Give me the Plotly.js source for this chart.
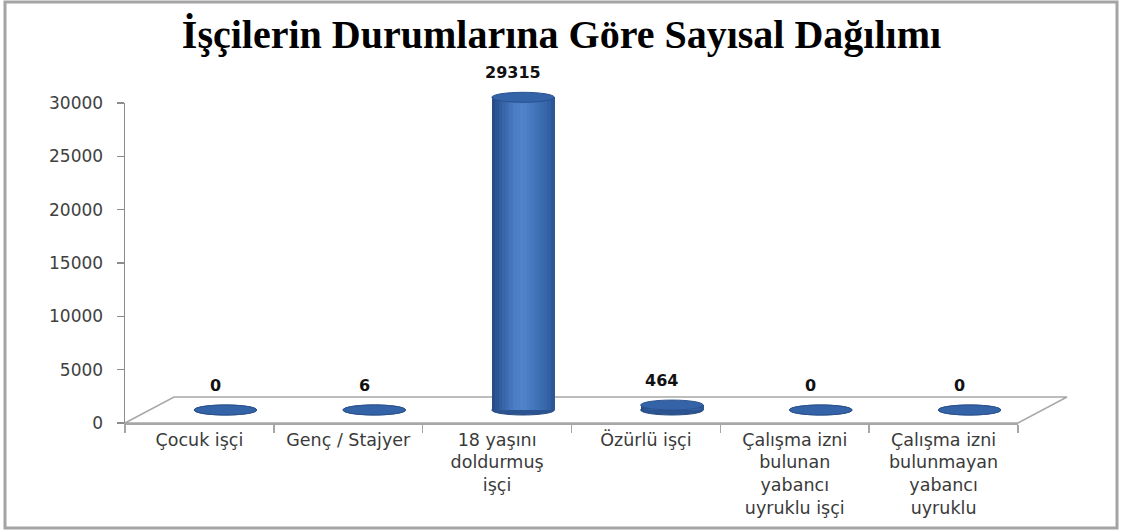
<!DOCTYPE html>
<html>
<head>
<meta charset="utf-8">
<script src="https://cdn.plot.ly/plotly-3.0.1.min.js"></script>
<style>html,body{margin:0;padding:0;background:#fff;} #chart{width:1123px;height:532px;}</style>
</head>
<body>
<div id="chart"></div>
<script>
// ---- data ----
const categories = ['Çocuk işçi', 'Genç / Stajyer', '18 yaşını<br>doldurmuş<br>işçi', 'Özürlü işçi', 'Çalışma izni<br>bulunan<br>yabancı<br>uyruklu işçi', 'Çalışma izni<br>bulunmayan<br>yabancı<br>uyruklu'];
const values = [0, 6, 29315, 464, 0, 0];
const yTickVals = [0, 5000, 10000, 15000, 20000, 25000, 30000];
const yTickText = ['0', '5000', '10000', '15000', '20000', '25000', '30000'];
const titleText = 'İşçilerin Durumlarına Göre Sayısal Dağılımı';

// ---- geometry helpers (pixels -> paper) ----
const L = 100, R = 1075, T = 80, B = 450;
const W = R - L, H = B - T;
const px = x => (x - L) / W;
const py = y => (B - y) / H;

const pxPerUnit = 320 / 30000;
const barW = 0.42;                 // cylinder width in category units
const ellH = 5 / pxPerUnit;        // half-height of ellipse in data units (~5px)
const y2Min = -2000;               // room below zero so the base ellipse is not clipped
const idx = values.map((v, i) => i);

// cylinder gradient strips
const stops = [[0, [36, 72, 127]], [0.12, [47, 91, 156]], [0.35, [74, 124, 194]], [0.5, [80, 131, 201]], [0.7, [66, 115, 186]], [0.9, [52, 99, 166]], [1, [42, 82, 144]]];
function colAt(t) {
  for (let k = 0; k < stops.length - 1; k++) {
    const a = stops[k], b = stops[k + 1];
    if (t >= a[0] && t <= b[0]) {
      const f = (t - a[0]) / (b[0] - a[0]);
      const c = a[1].map((v, j) => Math.round(v + (b[1][j] - v) * f));
      return 'rgb(' + c.join(',') + ')';
    }
  }
  return 'rgb(42,82,144)';
}
const N = 18;
const traces = [];
// invisible trace to define the category axis
traces.push({type: 'scatter', x: categories, y: values, mode: 'markers', marker: {opacity: 0}, hoverinfo: 'skip', showlegend: false, xaxis: 'x', yaxis: 'y'});
for (let k = 0; k < N; k++) {
  traces.push({
    type: 'bar', x: idx, y: values, xaxis: 'x2', yaxis: 'y2',
    width: barW / N * 1.2, offset: -barW / 2 + k * barW / N,
    marker: {color: colAt((k + 0.5) / N), line: {width: 0}},
    hoverinfo: 'skip', showlegend: false
  });
}

const shapes = [];
// outer frame
shapes.push({type: 'rect', xref: 'paper', yref: 'paper', x0: px(5), x1: px(1117), y0: py(2), y1: py(528), line: {color: '#a4a4a4', width: 3}, layer: 'below'});
// 3D floor
shapes.push({type: 'path', xref: 'paper', yref: 'paper', layer: 'below',
  path: `M${px(125)},${py(423)} L${px(174)},${py(397)} L${px(1067)},${py(397)} L${px(1018)},${py(423)} Z`,
  line: {color: '#a8a8a8', width: 1.5}, fillcolor: '#ffffff'});
// bottom ellipses
values.forEach((v, i) => {
  shapes.push({type: 'circle', xref: 'x2', yref: 'y2', layer: 'below',
    x0: i - barW / 2, x1: i + barW / 2, y0: -ellH, y1: ellH,
    fillcolor: '#2b5490', line: {color: '#24497f', width: 1}});
});
// top ellipses
values.forEach((v, i) => {
  shapes.push({type: 'circle', xref: 'x2', yref: 'y2', layer: 'above',
    x0: i - barW / 2, x1: i + barW / 2, y0: v - ellH, y1: v + ellH,
    fillcolor: '#3463a8', line: {color: '#2a528e', width: 1}});
});

const annotations = values.map((v, i) => ({
  xref: 'x2', yref: 'y2', x: i, y: v, text: String(v), showarrow: false,
  yanchor: 'bottom', yshift: 13, xshift: -10,
  font: {family: 'DejaVu Sans', size: 16, weight: 'bold', color: '#111'}
}));

const layout = {
  width: 1123, height: 532,
  margin: {l: L, r: 1123 - R, t: T, b: 532 - B, pad: 0},
  paper_bgcolor: '#ffffff', plot_bgcolor: 'rgba(0,0,0,0)',
  showlegend: false, barmode: 'overlay', bargap: 0,
  title: {text: titleText, x: 0.5, xref: 'container', xanchor: 'center', y: 1 - 34 / 532, yref: 'container', yanchor: 'middle',
    font: {family: 'Liberation Serif', size: 40, weight: 'bold', color: '#000'}},
  xaxis: {type: 'category', domain: [px(125), px(1018)], range: [-0.5, 5.5], showline: true, linecolor: '#a6a6a6', linewidth: 1.5,
    anchor: 'y', position: 0,
    ticks: 'outside', tickson: 'boundaries', ticklen: 8, tickcolor: '#a6a6a6', tickwidth: 1.5,
    showgrid: false, zeroline: false, fixedrange: true,
    tickfont: {family: 'DejaVu Sans', size: 17.5, color: '#3a3a3a'}},
  yaxis: {domain: [py(423), py(103)], range: [0, 30000], showline: true, linecolor: '#8c8c8c', linewidth: 1.5,
    anchor: 'x',
    ticks: 'outside', ticklen: 7, tickcolor: '#8c8c8c', tickwidth: 1.5,
    tickvals: yTickVals, ticktext: yTickText, ticklabelstandoff: 10,
    showgrid: false, zeroline: false, fixedrange: true,
    tickfont: {family: 'DejaVu Sans', size: 17, color: '#404040'}},
  xaxis2: {domain: [px(151), px(1044)], range: [-0.5, 5.5], visible: false, anchor: 'y2', fixedrange: true},
  yaxis2: {domain: [py(410 - y2Min * pxPerUnit), py(410 - 30000 * pxPerUnit)], range: [y2Min, 30000], visible: false, anchor: 'x2', fixedrange: true},
  shapes: shapes, annotations: annotations
};

Plotly.newPlot('chart', traces, layout, {displayModeBar: false, staticPlot: true});
</script>
</body>
</html>
